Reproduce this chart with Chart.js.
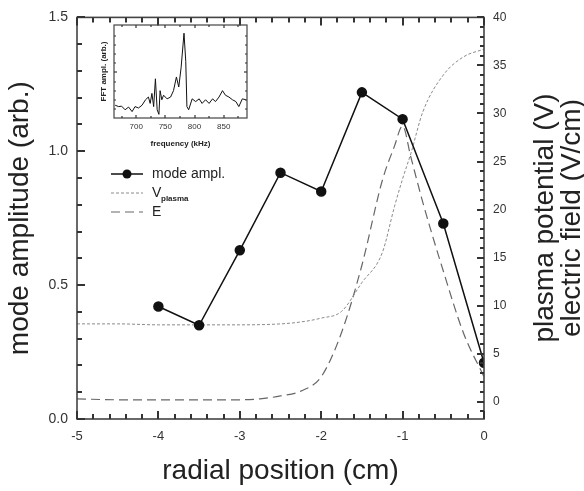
<!DOCTYPE html>
<html>
<head>
<meta charset="utf-8">
<script src="https://cdn.jsdelivr.net/npm/chart.js@4"></script>
<style>
  html, body { margin: 0; padding: 0; background: #fff; }
  #wrap { position: relative; width: 584px; height: 491px; }
  #main { position: absolute; left: 0; top: 0; }
  #inset { position: absolute; left: 90px; top: 18px; }
</style>
</head>
<body>
<div id="wrap">
  <canvas id="main" width="584" height="491"></canvas>
  <canvas id="inset" width="170" height="135"></canvas>
</div>
<script>
// mode amplitude (left axis)
const positions = [-4, -3.5, -3, -2.5, -2, -1.5, -1, -0.5, 0];
const modeAmpl = [0.42, 0.35, 0.63, 0.92, 0.85, 1.22, 1.12, 0.73, 0.21];

// plasma potential (right axis)
const vPos = [-5, -4.5, -4, -3.5, -3, -2.5, -2.25, -2, -1.75, -1.5, -1.25, -1.1, -1, -0.9, -0.75, -0.5, -0.25, 0];
const vPlasma = [8.1, 8.1, 8.0, 8.0, 8.0, 8.1, 8.3, 8.7, 9.4, 12.4, 15.5, 20.3, 23.2, 25.8, 30.2, 34.0, 35.9, 36.7];

// electric field (right axis)
const ePos = [-5, -4.5, -4, -3.5, -3, -2.75, -2.5, -2.25, -2, -1.75, -1.5, -1.25, -1.1, -1, -0.9, -0.75, -0.5, -0.25, 0];
const eField = [0.3, 0.2, 0.2, 0.2, 0.2, 0.3, 0.6, 1.1, 2.6, 7.2, 14.2, 23.0, 26.6, 28.7, 25.5, 20.7, 13.6, 7.1, 2.6];

// inset FFT spectrum
const fftFreq = [664, 670, 675, 681, 687, 693, 698, 704, 710, 716, 721, 724, 727, 730, 733, 736, 739, 741, 744, 747,
                 753, 759, 764, 769, 773, 777, 782, 785, 787, 790, 796, 802, 808, 813, 819, 825, 831, 836, 842, 848,
                 853, 859, 865, 871, 876, 882, 888];
const fftAmpl = [0.14, 0.125, 0.13, 0.09, 0.12, 0.07, 0.125, 0.11, 0.14, 0.20, 0.23, 0.16, 0.27, 0.125, 0.43, 0.09, 0.04, 0.30, 0.20, 0.25,
                 0.21, 0.23, 0.30, 0.45, 0.34, 0.55, 0.93, 0.62, 0.125, 0.09, 0.21, 0.18, 0.21, 0.16, 0.20, 0.16, 0.21, 0.18, 0.23, 0.30,
                 0.25, 0.23, 0.20, 0.18, 0.125, 0.21, 0.20];

const xTicks = [-5, -4, -3, -2, -1, 0];
const leftTicks = [0, 0.5, 1.0, 1.5];
const rightTicks = [0, 5, 10, 15, 20, 25, 30, 35, 40];
const fftTicks = [700, 750, 800, 850];

Chart.defaults.font.family = '"Liberation Sans", Arial, sans-serif';
Chart.defaults.animation = false;

function pts(xs, ys) {
  return xs.map((x, i) => ({ x: x, y: ys[i] }));
}

// frame + inward tick marks, placed through the chart's scales
function drawTicks(chart, specs, frameWidth, tickWidth) {
  const ctx = chart.ctx;
  const a = chart.chartArea;
  ctx.save();
  ctx.setLineDash([]);
  ctx.strokeStyle = '#444';
  ctx.lineWidth = frameWidth;
  ctx.strokeRect(a.left, a.top, a.right - a.left, a.bottom - a.top);
  ctx.strokeStyle = '#333';
  ctx.lineWidth = tickWidth;
  for (const s of specs) {
    const sc = chart.scales[s.id];
    const n = Math.round((s.to - s.from) / s.step);
    for (let i = 0; i <= n; i++) {
      const v = s.from + i * s.step;
      const r = v / s.major;
      const len = Math.abs(r - Math.round(r)) < 1e-6 ? s.big : s.small;
      const p = Math.round(sc.getPixelForValue(v));
      for (const side of s.sides) {
        ctx.beginPath();
        if (side === 'bottom') { ctx.moveTo(p, a.bottom); ctx.lineTo(p, a.bottom - len); }
        else if (side === 'top') { ctx.moveTo(p, a.top); ctx.lineTo(p, a.top + len); }
        else if (side === 'left') { ctx.moveTo(a.left, p); ctx.lineTo(a.left + len, p); }
        else { ctx.moveTo(a.right, p); ctx.lineTo(a.right - len, p); }
        ctx.stroke();
      }
    }
  }
  ctx.restore();
}

const mainDecor = {
  id: 'mainDecor',
  afterDraw(chart) {
    drawTicks(chart, [
      { id: 'x', from: -5, to: 0, step: 0.2, major: 1, big: 8, small: 5, sides: ['bottom', 'top'] },
      { id: 'y', from: 0, to: 1.5, step: 0.1, major: 0.5, big: 8, small: 5, sides: ['left'] },
      { id: 'y2', from: -1, to: 40, step: 1, major: 5, big: 7, small: 4, sides: ['right'] }
    ], 1.6, 2);
    const ctx = chart.ctx;
    ctx.save();
    // right axis titles, reading upwards like the left one
    ctx.fillStyle = '#222';
    ctx.font = '28px "Liberation Sans", Arial, sans-serif';
    ctx.textAlign = 'center';
    ctx.textBaseline = 'middle';
    ctx.translate(545, 218);
    ctx.rotate(-Math.PI / 2);
    ctx.fillText('plasma potential (V)', 0, 0);
    ctx.fillText('electric field (V/cm)', 0, 27);
    ctx.restore();

    // legend
    ctx.save();
    const lx0 = 111, lx1 = 143, tx = 152;
    const rows = [174, 193, 212];
    ctx.lineWidth = 1.5;
    ctx.strokeStyle = '#111';
    ctx.beginPath(); ctx.moveTo(lx0, rows[0]); ctx.lineTo(lx1, rows[0]); ctx.stroke();
    ctx.fillStyle = '#111';
    ctx.beginPath(); ctx.arc(127, rows[0], 4.5, 0, Math.PI * 2); ctx.fill();
    ctx.lineWidth = 1;
    ctx.strokeStyle = '#8a8a8a';
    ctx.setLineDash([3, 2]);
    ctx.beginPath(); ctx.moveTo(lx0, rows[1]); ctx.lineTo(lx1, rows[1]); ctx.stroke();
    ctx.strokeStyle = '#666';
    ctx.setLineDash([9, 5]);
    ctx.beginPath(); ctx.moveTo(lx0, rows[2]); ctx.lineTo(lx1, rows[2]); ctx.stroke();
    ctx.setLineDash([]);
    ctx.fillStyle = '#222';
    ctx.textBaseline = 'middle';
    ctx.font = '14px "Liberation Sans", Arial, sans-serif';
    ctx.fillText('mode ampl.', tx, rows[0]);
    ctx.fillText('V', tx, rows[1]);
    ctx.fillText('E', tx, rows[2]);
    ctx.font = 'bold 8px "Liberation Sans", Arial, sans-serif';
    ctx.fillText('plasma', tx + 9, rows[1] + 6);
    ctx.restore();
  }
};

new Chart(document.getElementById('main'), {
  type: 'line',
  data: {
    datasets: [
      {
        label: 'mode ampl.',
        data: pts(positions, modeAmpl),
        yAxisID: 'y',
        borderColor: '#111',
        backgroundColor: '#111',
        borderWidth: 1.5,
        pointRadius: 4.5,
        pointHoverRadius: 4.5,
        tension: 0
      },
      {
        label: 'Vplasma',
        data: pts(vPos, vPlasma),
        yAxisID: 'y2',
        borderColor: '#8a8a8a',
        borderWidth: 1,
        borderDash: [3, 2],
        pointRadius: 0,
        cubicInterpolationMode: 'monotone'
      },
      {
        label: 'E',
        data: pts(ePos, eField),
        yAxisID: 'y2',
        borderColor: '#666',
        borderWidth: 1.2,
        borderDash: [9, 5],
        pointRadius: 0,
        cubicInterpolationMode: 'monotone'
      }
    ]
  },
  options: {
    responsive: false,
    layout: { padding: { top: 13, left: 0, right: 0, bottom: 0 } },
    plugins: { legend: { display: false }, tooltip: { enabled: false } },
    scales: {
      x: {
        type: 'linear',
        min: -5,
        max: 0,
        grid: { display: false, drawTicks: false },
        border: { display: false },
        afterBuildTicks: s => { s.ticks = xTicks.map(v => ({ value: v })); },
        afterFit: s => { s.height = 72; },
        ticks: { color: '#333', font: { size: 13 }, padding: 10 },
        title: { display: true, text: 'radial position (cm)', color: '#222', font: { size: 28 }, padding: { top: 0, bottom: 3 } }
      },
      y: {
        position: 'left',
        min: 0,
        max: 1.5,
        grid: { display: false, drawTicks: false },
        border: { display: false },
        afterBuildTicks: s => { s.ticks = leftTicks.map(v => ({ value: v })); },
        afterFit: s => { s.width = 77; },
        ticks: { color: '#333', font: { size: 14 }, padding: 9, callback: v => v.toFixed(1) },
        title: { display: true, text: 'mode amplitude (arb.)', color: '#222', font: { size: 28 }, padding: { top: 3, bottom: 0 } }
      },
      y2: {
        position: 'right',
        min: -1.8,
        max: 40,
        grid: { display: false, drawTicks: false },
        border: { display: false },
        afterBuildTicks: s => { s.ticks = rightTicks.map(v => ({ value: v })); },
        afterFit: s => { s.width = 100; },
        ticks: { color: '#333', font: { size: 12 }, padding: 9 }
      }
    }
  },
  plugins: [mainDecor]
});

const insetDecor = {
  id: 'insetDecor',
  afterDraw(chart) {
    drawTicks(chart, [
      { id: 'x', from: 675, to: 875, step: 25, major: 50, big: 3, small: 2, sides: ['bottom', 'top'] },
      { id: 'y', from: 0.1, to: 0.9, step: 0.1, major: 0.5, big: 3, small: 2, sides: ['left', 'right'] }
    ], 1.2, 1.2);
  }
};

new Chart(document.getElementById('inset'), {
  type: 'line',
  data: {
    datasets: [{
      data: pts(fftFreq, fftAmpl),
      borderColor: '#111',
      borderWidth: 1,
      pointRadius: 0,
      tension: 0
    }]
  },
  options: {
    responsive: false,
    layout: { padding: { top: 7, right: 13, left: 0, bottom: 0 } },
    plugins: { legend: { display: false }, tooltip: { enabled: false } },
    scales: {
      x: {
        type: 'linear',
        min: 662,
        max: 890,
        grid: { display: false, drawTicks: false },
        border: { display: false },
        afterBuildTicks: s => { s.ticks = fftTicks.map(v => ({ value: v })); },
        afterFit: s => { s.height = 35; },
        ticks: { color: '#333', font: { size: 8 }, padding: 4 },
        title: { display: true, text: 'frequency (kHz)', color: '#222', font: { size: 8, weight: 'bold' }, padding: { top: 0, bottom: 4 } }
      },
      y: {
        min: 0,
        max: 1.02,
        grid: { display: false, drawTicks: false },
        border: { display: false },
        ticks: { display: false },
        afterFit: s => { s.width = 24; },
        title: { display: true, text: 'FFT ampl. (arb.)', color: '#222', font: { size: 8, weight: 'bold' }, padding: { top: 9, bottom: 0 } }
      }
    }
  },
  plugins: [insetDecor]
});
</script>
</body>
</html>
